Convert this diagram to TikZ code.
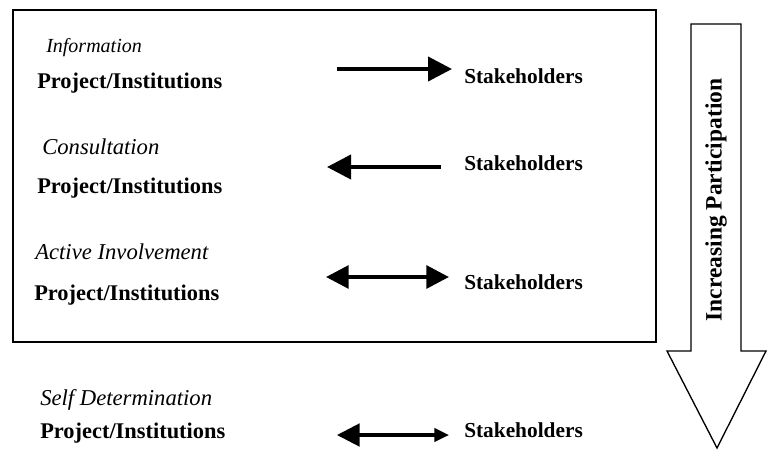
\documentclass[tikz,border=0pt]{standalone}
\usepackage{fontspec}
\setmainfont{Liberation Serif}
\usetikzlibrary{arrows.meta}

\tikzset{
  level/.style={font=\itshape\fontsize{17}{19}\selectfont, anchor=west, inner sep=0pt},
  actor/.style={font=\bfseries\fontsize{16.8}{19}\selectfont, anchor=west, inner sep=0pt},
  other/.style={font=\bfseries\fontsize{16}{18}\selectfont, anchor=west, inner sep=0pt},
  flow/.style={line width=3pt, -{Triangle[length=18pt, width=18pt]}},
  flowboth/.style={line width=3pt, {Triangle[length=17pt, width=17pt]}-{Triangle[length=17pt, width=17pt]}}
}

\begin{document}
\begin{tikzpicture}[x=0.75pt, y=-0.75pt]
    % Bounding box
    \useasboundingbox (0,0) rectangle (767,454);
    % Box
    \draw[line width=1.5pt] (13,10) rectangle (656,342);
    % Big arrow
    \draw[line width=1pt] (691,24) -- (741,24) -- (741,351) -- (766,351) -- (717,448) -- (667,351) -- (691,351) -- cycle;
    \node[font=\bfseries\fontsize{17.6}{19}\selectfont, rotate=90, inner sep=0pt] (incr) at (716,200) {Increasing Participation};
    % Information
    \node[level, font=\itshape\fontsize{15}{17}\selectfont] (info) at (46,48) {Information};
    \node[actor] (proj1) at (37,83) {Project/Institutions};
    \node[other] (stake1) at (464,76) {Stakeholders};
    \coordinate (a1s) at (337,69);
    \coordinate (a1e) at (452,69);
    \draw[flow] (a1s) -- (a1e);
    % Consultation
    \node[level] (cons) at (42,147) {Consultation};
    \node[actor] (proj2) at (37,188) {Project/Institutions};
    \node[other] (stake2) at (464,163) {Stakeholders};
    \coordinate (a2s) at (441,167);
    \coordinate (a2e) at (327,167);
    \draw[flow] (a2s) -- (a2e);
    % Active Involvement
    \node[level] (activ) at (35,252) {Active Involvement};
    \node[actor] (proj3) at (34,295) {Project/Institutions};
    \node[other] (stake3) at (464,282) {Stakeholders};
    \coordinate (a3s) at (326,277);
    \coordinate (a3e) at (449,277);
    \draw[flowboth] (a3s) -- (a3e);
    % Self Determination
    \node[level] (self) at (40,400) {Self Determination};
    \node[actor] (proj4) at (40,433) {Project/Institutions};
    \node[other] (stake4) at (464,430) {Stakeholders};
    \coordinate (a4s) at (337,435);
    \coordinate (a4e) at (449,435);
    \draw[line width=2.3pt, {Triangle[length=17pt, width=17pt]}-{Triangle[length=11pt, width=10pt]}] (a4s) -- (a4e);
\end{tikzpicture}
\end{document}
